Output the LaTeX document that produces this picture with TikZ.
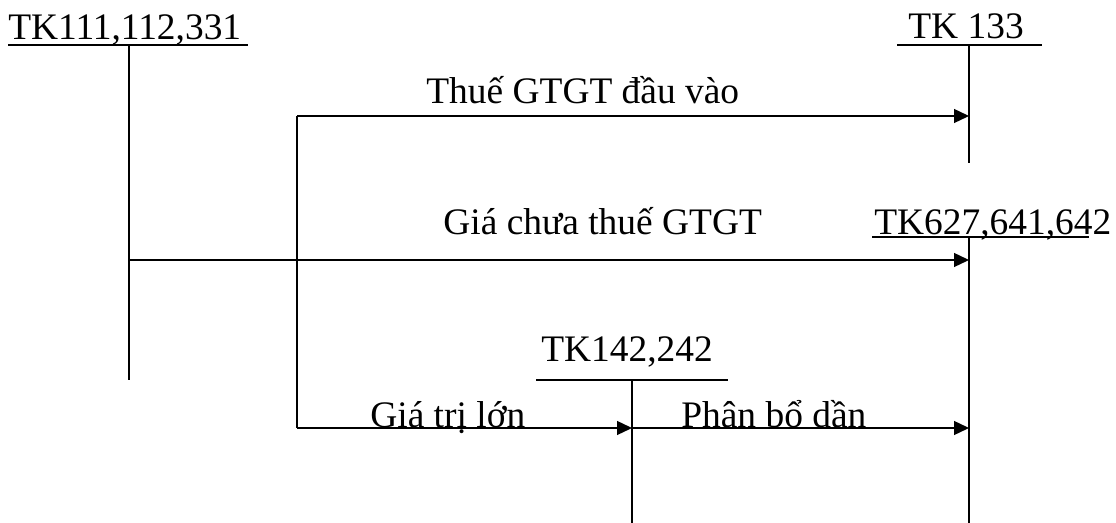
\documentclass[tikz,border=0pt]{standalone}
\usepackage{fontspec}
\setmainfont{Liberation Serif}
\usetikzlibrary{arrows.meta}

\begin{document}
\begin{tikzpicture}[
  x=0.02cm, y=-0.02cm,
  every node/.style={font=\fontsize{21.3}{25}\selectfont, inner sep=0pt},
  acct/.style={anchor=base west},
  lbl/.style={anchor=base west},
  tline/.style={line width=0.6pt},
  flow/.style={-{Triangle[length=0.3cm, width=0.28cm]}, line width=0.75pt},
]
\useasboundingbox (0,0) rectangle (1116,523);

% T accounts: names
\node[acct] (tk111) at (8,40) {TK111,112,331};
\node[acct] (tk133) at (908,39) {TK 133};
\node[acct] (tk627) at (874,235) {TK627,641,642};
\node[acct] (tk142) at (541,362) {TK142,242};

% T accounts: underline and stem
\coordinate (u111a) at (8,45);    \coordinate (u111b) at (248,45);
\coordinate (top111) at (129,45); \coordinate (bot111) at (129,380);
\coordinate (u133a) at (897,45);  \coordinate (u133b) at (1042,45);
\coordinate (top133) at (969,45); \coordinate (bot133) at (969,163);
\coordinate (u627a) at (872,237); \coordinate (u627b) at (1089,237);
\coordinate (top627) at (969,237); \coordinate (bot627) at (969,523);
\coordinate (u142a) at (536,380); \coordinate (u142b) at (728,380);
\coordinate (top142) at (632,380); \coordinate (bot142) at (632,523);

\draw[tline] (u111a) -- (u111b);
\draw[tline] (top111) -- (bot111);
\draw[tline] (u133a) -- (u133b);
\draw[tline] (top133) -- (bot133);
\draw[tline] (u627a) -- (u627b);
\draw[tline] (top627) -- (bot627);
\draw[tline] (u142a) -- (u142b);
\draw[tline] (top142) -- (bot142);

% branch line
\coordinate (br1) at (297,116);
\coordinate (br2) at (297,428);
\coordinate (in133) at (969,116);
\coordinate (out111) at (129,260);
\coordinate (in627) at (969,260);
\coordinate (in142) at (632,428);
\coordinate (in627b) at (969,428);
\draw[tline] (br1) -- (br2);

% Flows
\draw[flow] (br1) -- (in133);
\draw[flow] (out111) -- (in627);
\draw[flow] (br2) -- (in142);
\draw[flow] (in142) -- (in627b);

% Labels
\node[lbl] (vat) at (426,104) {Thuế GTGT đầu vào};
\node[lbl] (net) at (443,235) {Giá chưa thuế GTGT};
\node[lbl] (big) at (370,428) {Giá trị lớn};
\node[lbl] (alloc) at (681,428) {Phân bổ dần};

\end{tikzpicture}
\end{document}
